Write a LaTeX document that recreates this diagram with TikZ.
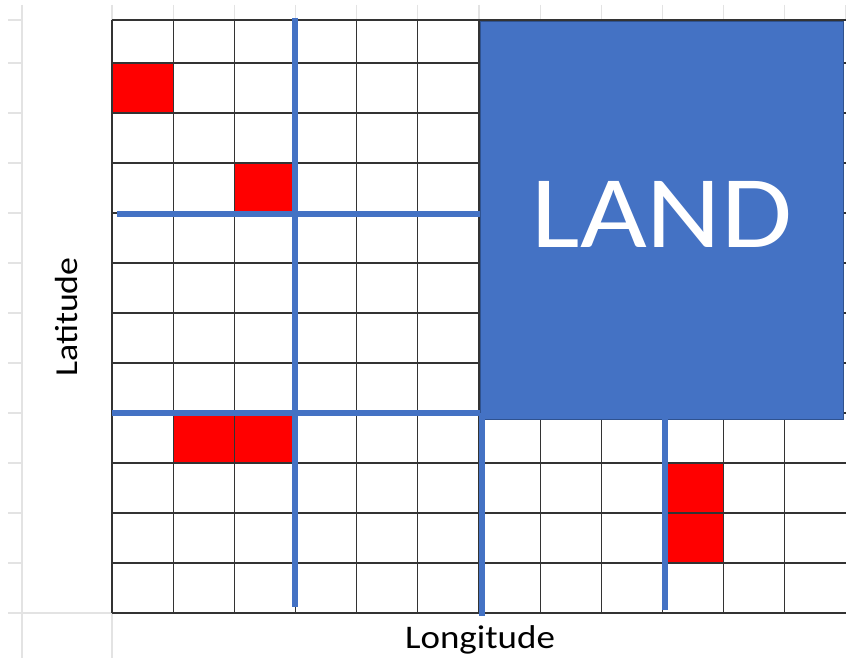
\documentclass[tikz,border=0pt]{standalone}
\usepackage{fontspec}
\setmainfont{Carlito}[FakeStretch=1.12]
\definecolor{landblue}{HTML}{4472C4}
\definecolor{landedge}{HTML}{2F528F}

\begin{document}
\begin{tikzpicture}[x=1pt,y=-1pt,
    sheetline/.style={gray!22, line width=1.2pt},
    cellline/.style={black!80, line width=1.1pt},
    redcell/.style={fill=red, draw=black!80, line width=1.1pt},
    bluebar/.style={landblue, line width=6pt}]
    \useasboundingbox (0,0) rectangle (846,658);
    \fill[white] (0,0) rectangle (846,658);

    % faint sheet lines
    \draw[sheetline] (22,5) -- (22,658);
    \draw[sheetline] (112,613) -- (112,658);
    \draw[sheetline] (8,613) -- (112,613);
    \draw[sheetline] (8,20) -- (22,20);
    \foreach \y in {63,113,...,563}
        \draw[sheetline] (8,\y) -- (22,\y);
    \foreach \i in {0,...,12}
        \draw[sheetline] (112+\i*61.17,5) -- (112+\i*61.17,20);

    % grid
    \foreach \i in {0,...,12}
        \draw[cellline] (112+\i*61.17,20) -- (112+\i*61.17,613);
    \draw[cellline] (112,20) -- (846,20);
    \foreach \y in {63,113,...,613}
        \draw[cellline] (112,\y) -- (846,\y);

    % red cells
    \draw[redcell] (112,63) rectangle (173.17,113);
    \draw[redcell] (234.34,163) rectangle (295.51,213);
    \draw[redcell] (173.17,413) rectangle (234.34,463);
    \draw[redcell] (234.34,413) rectangle (295.51,463);
    \draw[redcell] (662.7,463) rectangle (723.9,513);
    \draw[redcell] (662.7,513) rectangle (723.9,563);

    % land block
    \draw[fill=landblue, draw=landedge, line width=1pt] (480,22) rectangle (843,419);
    \node[text=white, font=\fontsize{103}{110}\selectfont, anchor=base] (land) at (662,247) {LAND};

    % blue bars
    \draw[bluebar] (295,18) -- (295,607);
    \draw[bluebar] (117,214) -- (480,214);
    \draw[bluebar] (112,413) -- (480,413);
    \draw[bluebar] (482,413) -- (482,616);
    \draw[bluebar] (665,419) -- (665,610);

    % axis names
    \node[font=\fontsize{33}{36}\selectfont, anchor=base] (lon) at (480,648) {Longitude};
    \node[font=\fontsize{32}{36}\selectfont, rotate=90, anchor=base] (lat) at (77,317) {Latitude};
\end{tikzpicture}
\end{document}
